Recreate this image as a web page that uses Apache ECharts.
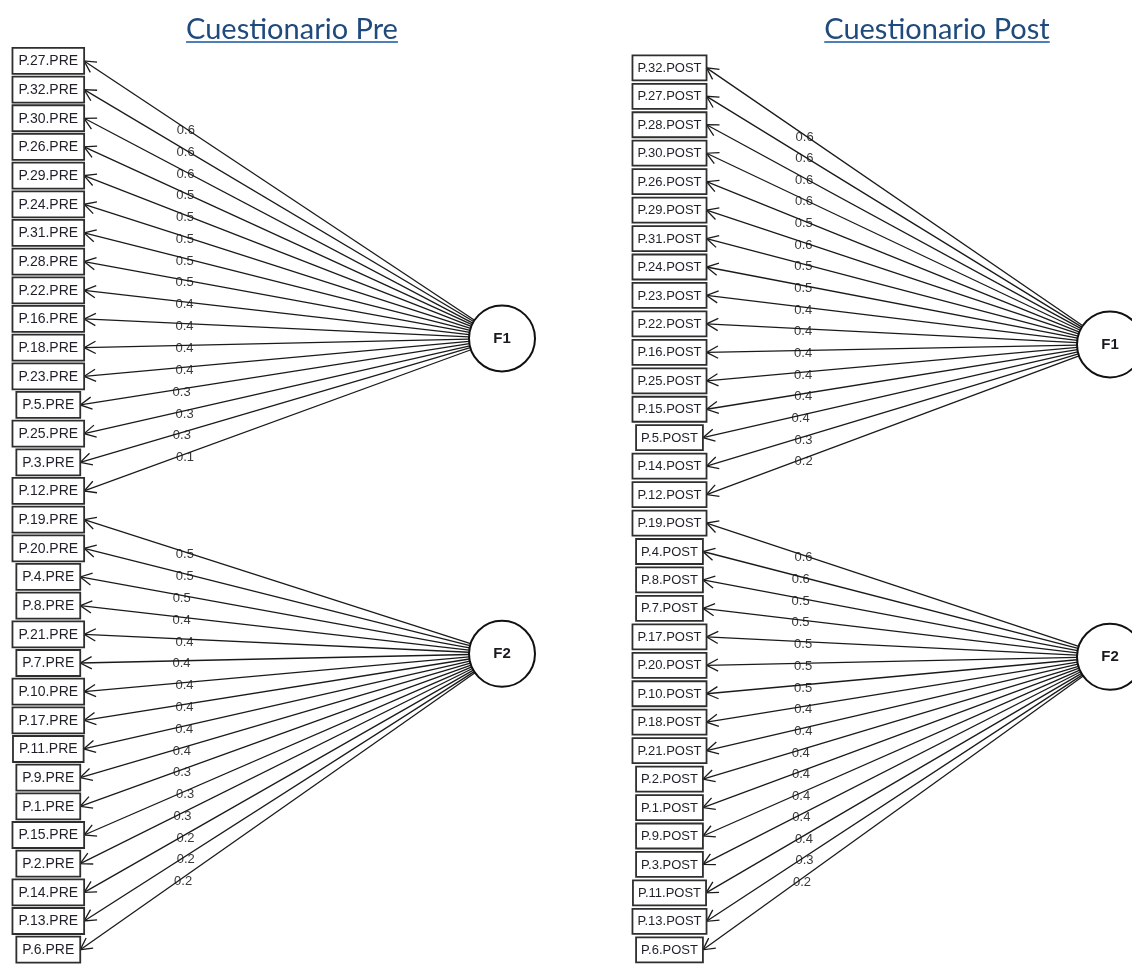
<!DOCTYPE html>
<html><head><meta charset="utf-8">
<script src="https://cdn.jsdelivr.net/npm/echarts@6/dist/echarts.min.js"></script>
<style>html,body{margin:0;padding:0;background:#fff}#c{width:1132px;height:964px}</style>
</head><body><div id="c"></div>
<script>
// ---------- data ----------
const titles = ['Cuestionario Pre', 'Cuestionario Post'];
const factorNames = ['F1', 'F2'];

const preF1Items = ['P.27.PRE','P.32.PRE','P.30.PRE','P.26.PRE','P.29.PRE','P.24.PRE','P.31.PRE','P.28.PRE','P.22.PRE','P.16.PRE','P.18.PRE','P.23.PRE','P.5.PRE','P.25.PRE','P.3.PRE','P.12.PRE'];
const preF1Loadings = [0.6,0.6,0.6,0.5,0.5,0.5,0.5,0.5,0.4,0.4,0.4,0.4,0.3,0.3,0.3,0.1];
const preF2Items = ['P.19.PRE','P.20.PRE','P.4.PRE','P.8.PRE','P.21.PRE','P.7.PRE','P.10.PRE','P.17.PRE','P.11.PRE','P.9.PRE','P.1.PRE','P.15.PRE','P.2.PRE','P.14.PRE','P.13.PRE','P.6.PRE'];
const preF2Loadings = [0.5,0.5,0.5,0.4,0.4,0.4,0.4,0.4,0.4,0.4,0.3,0.3,0.3,0.2,0.2,0.2];

const postF1Items = ['P.32.POST','P.27.POST','P.28.POST','P.30.POST','P.26.POST','P.29.POST','P.31.POST','P.24.POST','P.23.POST','P.22.POST','P.16.POST','P.25.POST','P.15.POST','P.5.POST','P.14.POST','P.12.POST'];
const postF1Loadings = [0.6,0.6,0.6,0.6,0.5,0.6,0.5,0.5,0.4,0.4,0.4,0.4,0.4,0.4,0.3,0.2];
const postF2Items = ['P.19.POST','P.4.POST','P.8.POST','P.7.POST','P.17.POST','P.20.POST','P.10.POST','P.18.POST','P.21.POST','P.2.POST','P.1.POST','P.9.POST','P.3.POST','P.11.POST','P.13.POST','P.6.POST'];
const postF2Loadings = [0.6,0.6,0.5,0.5,0.5,0.5,0.5,0.4,0.4,0.4,0.4,0.4,0.4,0.4,0.3,0.2];

// ---------- layout (positions / styles) ----------
const FONT_FAMILY = '"Liberation Sans", Arial, sans-serif';
const layouts = [
  { left: 0,   top: 46.6,  height: 920.6, boxX: 48.3,  factorX: 502, factorRows: [9.68, 20.68], r: 33,
    fontSize: 14, pad: 6, boxH: 26, titleX: 292 },
  { left: 566, top: 53.65, height: 918.4, boxX: 103.5, factorX: 544, factorRows: [9.72, 20.7], r: 33,
    fontSize: 13, pad: 5, boxH: 25, titleX: 937 }
];
const panelsData = [
  { items: preF1Items.concat(preF2Items), loadings: preF1Loadings.concat(preF2Loadings),
    factorIdx: preF1Items.map(() => 0).concat(preF2Items.map(() => 1)) },
  { items: postF1Items.concat(postF2Items), loadings: postF1Loadings.concat(postF2Loadings),
    factorIdx: postF1Items.map(() => 0).concat(postF2Items.map(() => 1)) }
];

const mctx = document.createElement('canvas').getContext('2d');
function textWidth(str, font) { mctx.font = font; return mctx.measureText(str).width; }

const chart = echarts.init(document.getElementById('c'), null, { renderer: 'canvas' });

const grids = [], xAxes = [], yAxes = [], series = [], titleOpts = [], graphics = [];
const TITLE_SIZE = 29;
const TITLE_FONT = TITLE_SIZE + 'px Lato';

layouts.forEach((L, p) => {
  const P = panelsData[p];
  const boxFont = L.fontSize + 'px ' + FONT_FAMILY;
  grids.push({ left: L.left, top: L.top, width: 566, height: L.height });
  xAxes.push({ gridIndex: p, type: 'value', min: 0, max: 566, show: false });
  yAxes.push({ gridIndex: p, type: 'value', min: -0.5, max: 31.5, inverse: true, show: false });

  // edges with arrows and loading labels
  series.push({
    type: 'custom', xAxisIndex: p, yAxisIndex: p, silent: true, z: 2,
    encode: { x: 0, y: 1 },
    data: P.items.map((name, i) => [L.boxX, i, P.factorIdx[i], P.loadings[i]]),
    renderItem: function (params, api) {
      const row = api.value(1), f = api.value(2), load = api.value(3);
      const name = P.items[params.dataIndex];
      const w = textWidth(name, boxFont) + 2 * L.pad;
      const c = api.coord([L.boxX, row]);
      const tip = [c[0] + w / 2, c[1]];
      const fc = api.coord([L.factorX, L.factorRows[f]]);
      const dx = tip[0] - fc[0], dy = tip[1] - fc[1], len = Math.hypot(dx, dy);
      const ux = dx / len, uy = dy / len;
      const start = [fc[0] + ux * L.r, fc[1] + uy * L.r];
      const bx = -ux, by = -uy, a = 28 * Math.PI / 180, al = 13;
      const arm = s => [tip[0] + al * (bx * Math.cos(s * a) - by * Math.sin(s * a)),
                        tip[1] + al * (bx * Math.sin(s * a) + by * Math.cos(s * a))];
      const t = 0.742;
      const lp = [start[0] + t * (tip[0] - start[0]), start[1] + t * (tip[1] - start[1])];
      return { type: 'group', children: [
        { type: 'text', x: lp[0] + 1, y: lp[1] + 3, z2: 1,
          style: { text: load.toFixed(1), font: '13px ' + FONT_FAMILY, fill: '#3a3a3a', align: 'center', verticalAlign: 'middle' } },
        { type: 'line', z2: 2, shape: { x1: start[0], y1: start[1], x2: tip[0], y2: tip[1] },
          style: { stroke: '#1a1a1a', lineWidth: 1.3 } },
        { type: 'polyline', z2: 2, shape: { points: [arm(1), tip, arm(-1)] },
          style: { stroke: '#1a1a1a', lineWidth: 1.3, fill: null } }
      ] };
    }
  });

  // item boxes
  series.push({
    type: 'custom', xAxisIndex: p, yAxisIndex: p, silent: true, z: 3,
    encode: { x: 0, y: 1 },
    data: P.items.map((name, i) => [L.boxX, i]),
    renderItem: function (params, api) {
      const name = P.items[params.dataIndex];
      const w = textWidth(name, boxFont) + 2 * L.pad;
      const c = api.coord([api.value(0), api.value(1)]);
      return { type: 'group', children: [
        { type: 'rect', shape: { x: c[0] - w / 2, y: c[1] - L.boxH / 2, width: w, height: L.boxH },
          style: { fill: '#fff', stroke: '#2e2e2e', lineWidth: 1.8 } },
        { type: 'text', x: c[0], y: c[1] + 0.5,
          style: { text: name, font: boxFont, fill: '#1f1f2a', align: 'center', verticalAlign: 'middle' } }
      ] };
    }
  });

  // latent factors
  series.push({
    type: 'scatter', xAxisIndex: p, yAxisIndex: p, silent: true, z: 4,
    symbol: 'circle', symbolSize: 2 * L.r,
    itemStyle: { color: '#fff', borderColor: '#111', borderWidth: 2, opacity: 1 },
    label: { show: true, position: 'inside', formatter: d => d.data[2],
      fontFamily: FONT_FAMILY, fontWeight: 'bold', fontSize: 15, color: '#1a1a22' },
    data: factorNames.map((n, k) => [L.factorX, L.factorRows[k], n])
  });

  // titles
  titleOpts.push({ text: titles[p], left: L.titleX, top: 15, textAlign: 'center', padding: 0,
    textStyle: { fontFamily: 'Lato', fontSize: TITLE_SIZE, fontWeight: 'normal', color: '#1f4a7c' } });
  const tw = textWidth(titles[p], TITLE_FONT);
  graphics.push({ type: 'rect', left: L.titleX - tw / 2, top: 41, shape: { width: tw, height: 2 },
    style: { fill: '#4f7fb8' }, silent: true });
});

chart.setOption({
  animation: false,
  backgroundColor: '#fff',
  title: titleOpts,
  grid: grids,
  xAxis: xAxes,
  yAxis: yAxes,
  graphic: graphics,
  series: series
});
</script>
</body></html>
